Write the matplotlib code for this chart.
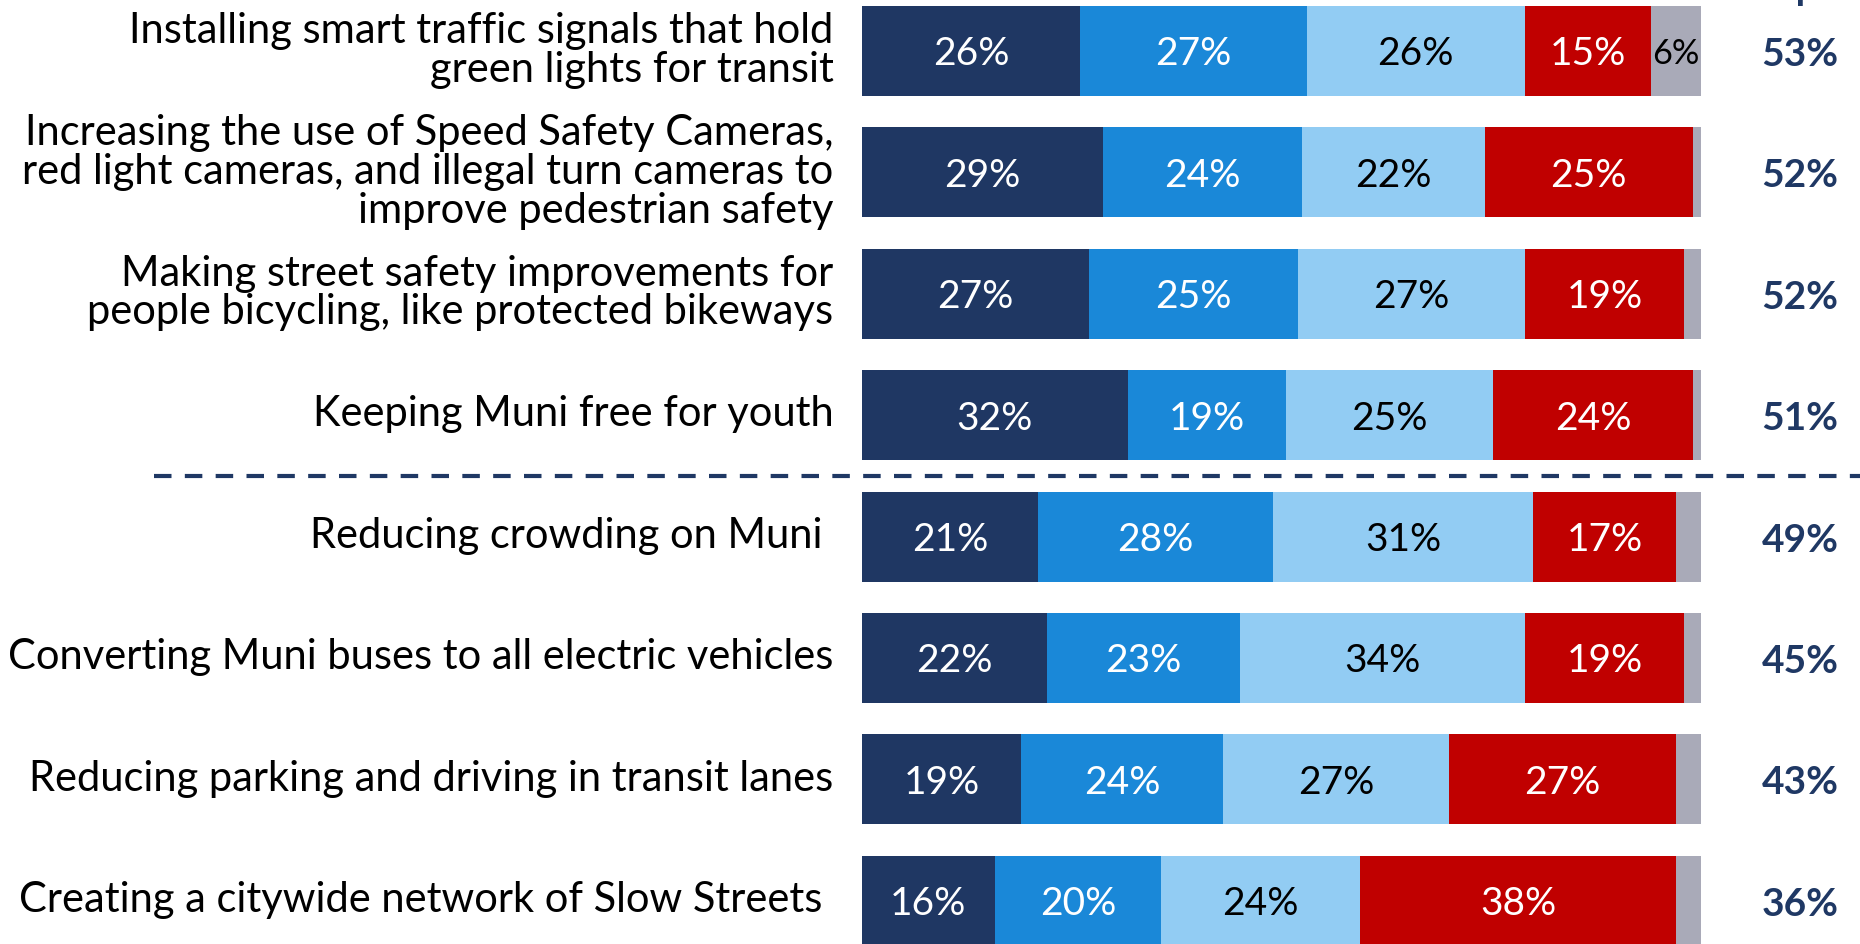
import matplotlib.pyplot as plt
import numpy as np

plt.rcParams['font.family'] = ['Lato', 'DejaVu Sans']

questions = [
    "Installing smart traffic signals that hold\ngreen lights for transit",
    "Increasing the use of Speed Safety Cameras,\nred light cameras, and illegal turn cameras to\nimprove pedestrian safety",
    "Making street safety improvements for\npeople bicycling, like protected bikeways",
    "Keeping Muni free for youth",
    "Reducing crowding on Muni ",
    "Converting Muni buses to all electric vehicles",
    "Reducing parking and driving in transit lanes",
    "Creating a citywide network of Slow Streets ",
]
very = [26, 29, 27, 32, 21, 22, 19, 16]
somewhat = [27, 24, 25, 19, 28, 23, 24, 20]
little = [26, 22, 27, 25, 31, 34, 27, 24]
not_imp = [15, 25, 19, 24, 17, 19, 27, 38]
unsure = [6, 1, 2, 1, 3, 2, 3, 3]
top2 = [53, 52, 52, 51, 49, 45, 43, 36]

series = [very, somewhat, little, not_imp, unsure]
colors = ['#1F3763', '#1A88D8', '#92CCF3', '#C00000', '#A9AAB8']
txt_colors = ['white', 'white', 'black', 'white', 'black']
navy = '#1F3864'

W, H = 1860, 945
fig = plt.figure(figsize=(W / 100, H / 100), dpi=100)
# bars run from x=862 to x=1701 px
ax = fig.add_axes([862 / W, 0, 839 / W, 1])
pitch = 121.4
ax.set_xlim(0, 100)
ax.set_ylim((H - 52) / pitch, -52 / pitch)
ax.axis('off')

y = np.arange(len(questions))
data = np.array(series, dtype=float)
totals = data.sum(axis=0)
widths = data / totals * 100

fs_q = 30
fs_n = 28
left = np.zeros(len(questions))
for k in range(len(series)):
    ax.barh(y, widths[k], left=left, height=90 / pitch, color=colors[k],
            edgecolor='none')
    for i in range(len(questions)):
        v = series[k][i]
        if v >= 5:
            size = fs_n if v >= 10 else fs_n * 0.88
            ax.text(left[i] + widths[k][i] / 2, y[i] + 0.02, f"{v}%",
                    ha='center', va='center', color=txt_colors[k],
                    fontsize=size)
    left = left + widths[k]

for i, q in enumerate(questions):
    ax.text(-3.4, y[i] - 0.015, q, ha='right', va='center', fontsize=fs_q,
            color='black', linespacing=1.03, clip_on=False)
    ax.text(111.8, y[i] + 0.02, f"{top2[i]}%", ha='center', va='center',
            fontsize=fs_n, fontweight='bold', color=navy, clip_on=False)

# separator between the top four and the rest
ax.plot([-84.4, 119.5], [3.5, 3.5], color=navy, lw=3, ls=(0, (4.2, 3.2)),
        clip_on=False)

# header mostly cropped off the top edge
ax.text(111.8, -52 / pitch + 0.5 / pitch, "Top 2", ha='center', va='baseline',
        fontsize=fs_n, fontweight='bold', color=navy, clip_on=False)

fig.savefig('out.png', dpi=100)
